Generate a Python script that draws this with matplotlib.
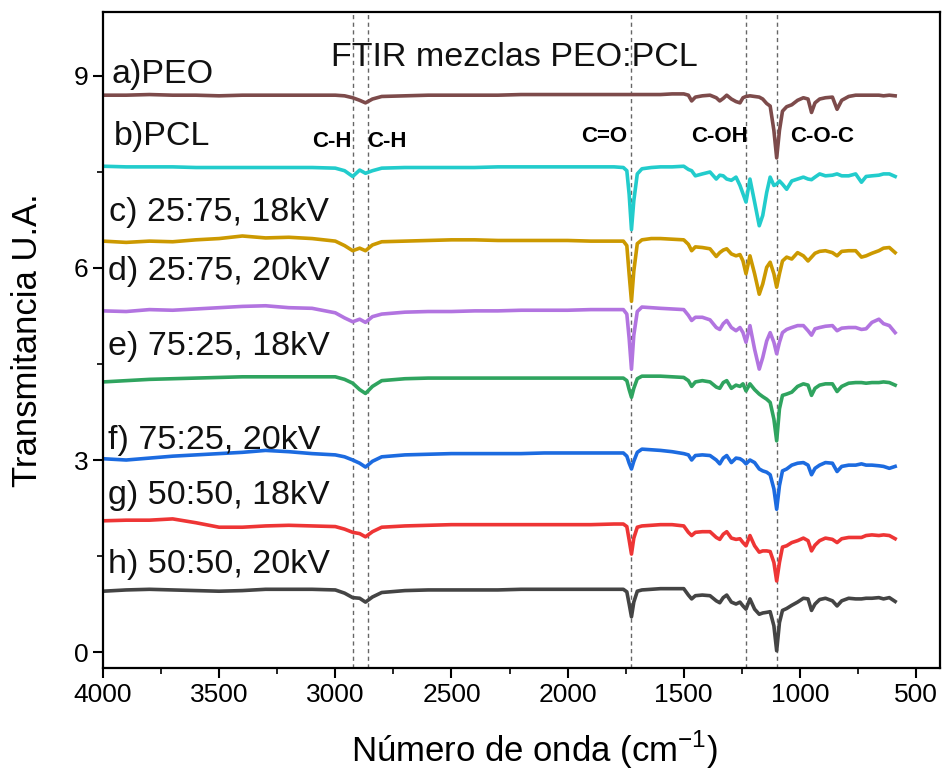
import matplotlib
matplotlib.use("Agg")
import matplotlib.pyplot as plt
from matplotlib.ticker import MultipleLocator

plt.rcParams['font.family'] = ['Liberation Sans', 'DejaVu Sans']

# Wavenumber grid (cm-1)
wavenumber = [4000, 3900, 3800, 3700, 3600, 3500, 3400, 3300, 3200, 3100,
              3000, 2960, 2925, 2895, 2870, 2840, 2800, 2700, 2600, 2500,
              2400, 2300, 2200, 2100, 2000, 1900, 1800, 1760, 1745, 1735,
              1725, 1715, 1700, 1680, 1640, 1600, 1550, 1500, 1480, 1466,
              1450, 1420, 1387, 1360, 1345, 1330, 1315, 1295, 1275, 1258,
              1245, 1232, 1215, 1195, 1175, 1160, 1143, 1128, 1112, 1100,
              1088, 1075, 1057, 1035, 1010, 985, 965, 950, 935, 915,
              890, 860, 840, 820, 790, 760, 735, 715, 690, 660,
              640, 615, 590]

peo = [8.70, 8.70, 8.71, 8.70, 8.70, 8.69, 8.70, 8.70, 8.70, 8.70,
       8.70, 8.69, 8.66, 8.62, 8.58, 8.64, 8.68, 8.69, 8.70, 8.70,
       8.70, 8.70, 8.71, 8.71, 8.71, 8.71, 8.71, 8.71, 8.71, 8.71,
       8.71, 8.71, 8.71, 8.71, 8.71, 8.71, 8.72, 8.72, 8.70, 8.61,
       8.67, 8.69, 8.70, 8.66, 8.61, 8.65, 8.70, 8.64, 8.60, 8.58,
       8.66, 8.68, 8.69, 8.68, 8.67, 8.64, 8.57, 8.53, 8.15, 7.72,
       8.15, 8.45, 8.52, 8.55, 8.62, 8.66, 8.64, 8.43, 8.58, 8.64,
       8.66, 8.67, 8.48, 8.62, 8.68, 8.70, 8.70, 8.70, 8.70, 8.70,
       8.69, 8.70, 8.69]

pcl = [7.59, 7.58, 7.58, 7.58, 7.57, 7.57, 7.57, 7.57, 7.57, 7.57,
       7.56, 7.52, 7.43, 7.53, 7.48, 7.52, 7.56, 7.57, 7.57, 7.57,
       7.57, 7.58, 7.58, 7.58, 7.58, 7.58, 7.58, 7.57, 7.52, 7.15,
       6.60, 7.05, 7.47, 7.55, 7.57, 7.58, 7.58, 7.59, 7.54, 7.52,
       7.44, 7.47, 7.50, 7.39, 7.45, 7.44, 7.39, 7.37, 7.42, 7.29,
       7.16, 7.03, 7.39, 7.03, 6.66, 6.82, 7.18, 7.42, 7.29, 7.31,
       7.36, 7.31, 7.23, 7.36, 7.39, 7.42, 7.39, 7.38, 7.42, 7.47,
       7.44, 7.45, 7.47, 7.44, 7.44, 7.47, 7.34, 7.43, 7.44, 7.45,
       7.47, 7.47, 7.43]

mix_2575_18 = [6.42, 6.40, 6.42, 6.41, 6.44, 6.46, 6.50, 6.47, 6.48, 6.46,
               6.42, 6.35, 6.27, 6.31, 6.27, 6.36, 6.41, 6.42, 6.43, 6.44,
               6.44, 6.43, 6.43, 6.43, 6.43, 6.42, 6.42, 6.42, 6.35, 5.90,
               5.48, 5.95, 6.38, 6.44, 6.46, 6.46, 6.45, 6.44, 6.37, 6.27,
               6.33, 6.32, 6.30, 6.18, 6.24, 6.28, 6.30, 6.22, 6.19, 6.21,
               6.11, 5.91, 6.19, 5.91, 5.59, 5.75, 6.01, 6.09, 5.91, 5.70,
               5.91, 6.11, 6.17, 6.14, 6.24, 6.19, 6.11, 6.17, 6.23, 6.26,
               6.27, 6.24, 6.19, 6.26, 6.27, 6.27, 6.17, 6.19, 6.23, 6.27,
               6.31, 6.32, 6.24]

mix_2575_20 = [5.33, 5.32, 5.35, 5.34, 5.36, 5.38, 5.40, 5.41, 5.38, 5.37,
               5.30, 5.22, 5.16, 5.20, 5.15, 5.24, 5.28, 5.31, 5.32, 5.32,
               5.33, 5.33, 5.34, 5.34, 5.34, 5.35, 5.35, 5.35, 5.28, 4.90,
               4.42, 4.95, 5.32, 5.39, 5.38, 5.37, 5.36, 5.35, 5.26, 5.18,
               5.23, 5.23, 5.19, 5.07, 5.04, 5.13, 5.18, 5.07, 5.02, 5.07,
               4.99, 4.84, 5.10, 4.73, 4.42, 4.60, 4.86, 4.99, 4.84, 4.66,
               4.84, 4.99, 5.04, 5.07, 5.10, 5.10, 5.02, 4.95, 5.05, 5.07,
               5.09, 5.10, 5.02, 5.06, 5.07, 5.07, 5.04, 5.05, 5.15, 5.20,
               5.13, 5.10, 4.99]

mix_7525_18 = [4.22, 4.24, 4.26, 4.27, 4.28, 4.29, 4.30, 4.30, 4.30, 4.30,
               4.30, 4.26, 4.20, 4.10, 4.04, 4.15, 4.24, 4.27, 4.28, 4.28,
               4.28, 4.28, 4.28, 4.28, 4.28, 4.28, 4.28, 4.28, 4.24, 4.10,
               3.98, 4.12, 4.27, 4.31, 4.31, 4.31, 4.30, 4.29, 4.24, 4.15,
               4.22, 4.24, 4.22, 4.14, 4.12, 4.21, 4.24, 4.12, 4.17, 4.15,
               4.19, 4.08, 4.19, 4.10, 4.03, 3.99, 3.95, 3.90, 3.64, 3.30,
               3.80, 4.01, 4.03, 4.06, 4.15, 4.19, 4.17, 4.01, 4.12, 4.17,
               4.19, 4.19, 4.07, 4.15, 4.20, 4.21, 4.21, 4.20, 4.21, 4.21,
               4.22, 4.21, 4.17]

mix_7525_20 = [3.02, 3.00, 3.03, 3.06, 3.08, 3.10, 3.12, 3.15, 3.13, 3.10,
               3.08, 3.05, 3.00, 2.95, 2.89, 2.98, 3.05, 3.08, 3.09, 3.10,
               3.10, 3.10, 3.10, 3.11, 3.11, 3.11, 3.11, 3.11, 3.06, 2.95,
               2.86, 2.98, 3.12, 3.17, 3.16, 3.15, 3.13, 3.10, 3.08, 3.00,
               3.07, 3.08, 3.07, 3.00, 2.94, 3.03, 3.07, 2.96, 3.03, 3.02,
               2.99, 2.94, 3.00, 2.96, 2.86, 2.83, 2.81, 2.77, 2.55, 2.23,
               2.60, 2.83, 2.86, 2.92, 2.95, 2.96, 2.92, 2.77, 2.87, 2.92,
               2.96, 2.95, 2.82, 2.90, 2.92, 2.92, 2.94, 2.92, 2.92, 2.91,
               2.90, 2.87, 2.90]

mix_5050_18 = [2.05, 2.06, 2.06, 2.08, 2.02, 1.95, 1.95, 1.97, 1.98, 1.97,
               1.96, 1.92, 1.87, 1.85, 1.80, 1.88, 1.95, 1.97, 1.98, 1.99,
               1.99, 1.99, 1.99, 1.99, 1.99, 1.99, 2.00, 2.00, 1.96, 1.75,
               1.53, 1.78, 1.95, 1.97, 1.98, 1.99, 1.99, 1.97, 1.87, 1.82,
               1.87, 1.88, 1.88, 1.79, 1.76, 1.84, 1.88, 1.78, 1.76, 1.77,
               1.71, 1.66, 1.82, 1.66, 1.56, 1.58, 1.58, 1.57, 1.40, 1.11,
               1.40, 1.64, 1.66, 1.71, 1.74, 1.78, 1.74, 1.58, 1.67, 1.74,
               1.78, 1.76, 1.71, 1.77, 1.79, 1.79, 1.79, 1.82, 1.83, 1.82,
               1.83, 1.82, 1.77]

mix_5050_20 = [0.95, 0.97, 0.98, 0.97, 0.96, 0.95, 0.96, 0.98, 0.98, 0.98,
               0.97, 0.92, 0.85, 0.84, 0.78, 0.86, 0.93, 0.96, 0.97, 0.97,
               0.97, 0.97, 0.98, 0.98, 0.98, 0.98, 0.98, 0.98, 0.94, 0.75,
               0.55, 0.78, 0.95, 0.97, 0.98, 0.99, 0.99, 0.99, 0.89, 0.83,
               0.88, 0.89, 0.88, 0.80, 0.77, 0.85, 0.89, 0.78, 0.75, 0.78,
               0.72, 0.67, 0.83, 0.67, 0.59, 0.61, 0.62, 0.63, 0.41, 0.02,
               0.46, 0.65, 0.68, 0.73, 0.78, 0.84, 0.83, 0.65, 0.75, 0.82,
               0.84, 0.80, 0.72, 0.80, 0.84, 0.83, 0.83, 0.84, 0.84, 0.85,
               0.83, 0.85, 0.79]

series = [peo, pcl, mix_2575_18, mix_2575_20, mix_7525_18, mix_7525_20,
          mix_5050_18, mix_5050_20]
labels = ["a)PEO", "b)PCL", "c) 25:75, 18kV", "d) 25:75, 20kV",
          "e) 75:25, 18kV", "f) 75:25, 20kV", "g) 50:50, 18kV", "h) 50:50, 20kV"]
label_x = [3965, 3955, 3975, 3980, 3980, 3980, 3980, 3980]
label_y = [9.03, 8.06, 6.86, 5.95, 4.78, 3.31, 2.44, 1.36]
colors = ["#7d4b4b", "#22cccc", "#cc9900", "#b274e0", "#2fa45f",
          "#1c6be0", "#ee3535", "#444444"]

# band positions (dashed guides) and their names
bands = [2925, 2860, 1727, 1232, 1100]
band_names = ["C-H", "C-H", "C=O", "C-OH", "C-O-C"]
band_name_x = [3014, 2777, 1843, 1344, 905]
band_name_y = [7.97, 7.97, 8.06, 8.05, 8.05]

fig = plt.figure(figsize=(9.43, 7.73), dpi=100)
ax = fig.add_axes([0.1092, 0.1358, 0.8876, 0.8487])

for b in bands:
    ax.axvline(b, color="#666666", lw=1.0, ls=(0, (3, 2.5)), zorder=1)

for ys, c in zip(series, colors):
    assert len(ys) == len(wavenumber)
    ax.plot(wavenumber, ys, color=c, lw=2.6, zorder=2, solid_joinstyle="round")

for lab, x, y in zip(labels, label_x, label_y):
    ax.text(x, y, lab, fontsize=24.5, ha="left", va="center", color="#111111")

for name, x, y in zip(band_names, band_name_x, band_name_y):
    ax.text(x, y, name, fontsize=16, fontweight="bold", ha="center", va="center")

ax.text(0.492, 0.931, "FTIR mezclas PEO:PCL", transform=ax.transAxes,
        fontsize=24.5, ha="center", va="center", color="#111111")

ax.set_xlim(4000, 397)
ax.set_ylim(-0.25, 10.0)
ax.xaxis.set_major_locator(MultipleLocator(500))
ax.xaxis.set_minor_locator(MultipleLocator(250))
ax.yaxis.set_major_locator(MultipleLocator(3))
ax.yaxis.set_minor_locator(MultipleLocator(1.5))
ax.tick_params(which="major", direction="out", length=7, width=1.5, labelsize=19)
ax.tick_params(which="minor", direction="out", length=4, width=1.2)
for s in ax.spines.values():
    s.set_linewidth(1.6)

ax.set_xlabel("Número de onda (cm$^{\\mathregular{-1}}$)", fontsize=25)
ax.set_ylabel("Transmitancia U.A.", fontsize=25)
ax.xaxis.set_label_coords(0.516, -0.093)
ax.yaxis.set_label_coords(-0.07, 0.5)

fig.savefig("out.png", dpi=100)
